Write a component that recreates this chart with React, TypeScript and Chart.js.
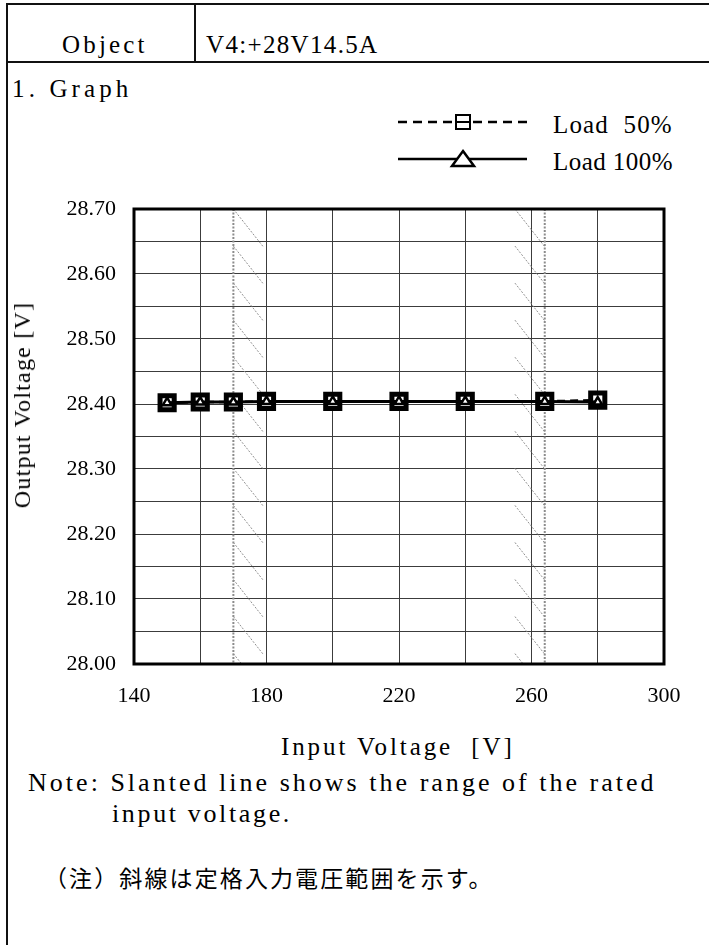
import React, { useEffect, useLayoutEffect, useRef } from 'react';
import { Chart, registerables } from 'chart.js';

Chart.register(...registerables);

// ---- data ----
const INPUT_VOLTAGE = [150, 160, 170, 180, 200, 220, 240, 264, 280];
const LOAD_50 = [28.402, 28.403, 28.403, 28.404, 28.404, 28.404, 28.404, 28.404, 28.406];
const LOAD_100 = [28.402, 28.403, 28.403, 28.404, 28.404, 28.404, 28.404, 28.404, 28.403];
const SERIES_NAMES = ['Load  50%', 'Load 100%'];
const X_TICK_LABELS = [140, 180, 220, 260, 300];
const Y_TICK_LABELS = ['28.00', '28.10', '28.20', '28.30', '28.40', '28.50', '28.60', '28.70'];
const RATED_RANGE = [170, 264];

const SERIF = '"Liberation Serif", "Times New Roman", "DejaVu Serif", serif';
const CJK = '"Noto Sans CJK JP", sans-serif';
const CANVAS_TOP = 95;

type TxtProps = {
  x: number;
  y: number;
  w: number;
  size: number;
  family?: string;
  rotate?: boolean;
  children: string;
};

function Txt({ x, y, w, size, family = SERIF, rotate = false, children }: TxtProps) {
  const ref = useRef<HTMLSpanElement>(null);
  useLayoutEffect(() => {
    const fit = () => {
      const el = ref.current;
      if (!el) return;
      el.style.letterSpacing = '0px';
      const natural = el.offsetWidth;
      const n = Array.from(el.textContent || '').length;
      el.style.letterSpacing = (w - natural) / n + 'px';
    };
    fit();
    const f = (document as any).fonts;
    if (f && f.ready) f.ready.then(fit);
  }, [w, children]);
  const style: React.CSSProperties = rotate
    ? {
        position: 'absolute',
        left: x,
        top: y,
        transform: 'translate(-50%, -50%) rotate(-90deg)',
        fontFamily: family,
        fontSize: size,
        lineHeight: 1,
        whiteSpace: 'pre',
        color: '#000',
      }
    : {
        position: 'absolute',
        left: x,
        top: y - size / 2,
        fontFamily: family,
        fontSize: size,
        lineHeight: 1,
        whiteSpace: 'pre',
        color: '#000',
      };
  return (
    <span ref={ref} style={style}>
      {children}
    </span>
  );
}

function Line({ x, y, w, h }: { x: number; y: number; w: number; h: number }) {
  return <div style={{ position: 'absolute', left: x, top: y, width: w, height: h, background: '#111' }} />;
}

export default function App() {
  const canvasRef = useRef<HTMLCanvasElement>(null);

  useEffect(() => {
    const canvas = canvasRef.current;
    if (!canvas) return;

    const hatchPlugin = {
      id: 'hatch',
      beforeDatasetsDraw(chart: any) {
        const { ctx, chartArea } = chart;
        const xs = chart.scales.x;
        const ys = chart.scales.y;
        ctx.save();
        ctx.beginPath();
        ctx.rect(chartArea.left, chartArea.top, chartArea.right - chartArea.left, chartArea.bottom - chartArea.top);
        ctx.clip();
        ctx.strokeStyle = '#8c8c8c';
        ctx.lineWidth = 2;
        ctx.setLineDash([2, 1.5]);
        for (const v of RATED_RANGE) {
          const px = xs.getPixelForValue(v);
          ctx.beginPath();
          ctx.moveTo(px, chartArea.top);
          ctx.lineTo(px, chartArea.bottom);
          ctx.stroke();
        }
        const width = 9;
        const drop = 0.058;
        const step = 0.057;
        ctx.lineWidth = 1;
        ctx.strokeStyle = '#909090';
        ctx.setLineDash([2, 1.5]);
        for (let v = 28.7; v > 27.9; v -= step) {
          ctx.beginPath();
          ctx.moveTo(xs.getPixelForValue(RATED_RANGE[0]), ys.getPixelForValue(v));
          ctx.lineTo(xs.getPixelForValue(RATED_RANGE[0] + width), ys.getPixelForValue(v - drop));
          ctx.stroke();
          ctx.beginPath();
          ctx.moveTo(xs.getPixelForValue(RATED_RANGE[1] - width), ys.getPixelForValue(v));
          ctx.lineTo(xs.getPixelForValue(RATED_RANGE[1]), ys.getPixelForValue(v - drop));
          ctx.stroke();
        }
        ctx.restore();
      },
    };

    const framePlugin = {
      id: 'frame',
      afterDraw(chart: any) {
        const { ctx, chartArea } = chart;
        ctx.save();
        ctx.strokeStyle = '#000';
        ctx.lineWidth = 3;
        ctx.setLineDash([]);
        ctx.strokeRect(chartArea.left, chartArea.top, chartArea.right - chartArea.left, chartArea.bottom - chartArea.top);
        ctx.restore();
      },
    };

    const legendPlugin = {
      id: 'customLegend',
      afterDraw(chart: any) {
        const { ctx } = chart;
        const x0 = 398;
        const x1 = 527;
        const cx = 463;
        const y1 = 122 - CANVAS_TOP;
        const y2 = 159 - CANVAS_TOP;
        ctx.save();
        ctx.strokeStyle = '#000';
        ctx.lineWidth = 2.5;
        ctx.setLineDash([9, 6]);
        ctx.beginPath();
        ctx.moveTo(x0, y1);
        ctx.lineTo(x1, y1);
        ctx.stroke();
        ctx.setLineDash([]);
        ctx.fillStyle = '#fff';
        ctx.fillRect(cx - 8, y1 - 8, 16, 16);
        ctx.lineWidth = 2;
        ctx.strokeRect(cx - 7, y1 - 7, 14, 14);
        ctx.beginPath();
        ctx.moveTo(cx - 7, y1);
        ctx.lineTo(cx + 7, y1);
        ctx.stroke();
        ctx.lineWidth = 2.5;
        ctx.beginPath();
        ctx.moveTo(x0, y2);
        ctx.lineTo(x1, y2);
        ctx.stroke();
        ctx.beginPath();
        ctx.moveTo(cx, y2 - 8);
        ctx.lineTo(cx + 11, y2 + 7);
        ctx.lineTo(cx - 11, y2 + 7);
        ctx.closePath();
        ctx.fillStyle = '#fff';
        ctx.fill();
        ctx.lineWidth = 2.5;
        ctx.stroke();
        ctx.restore();
      },
    };

    const tickFont = { family: SERIF, size: 22 };

    const chart = new Chart(canvas, {
      type: 'line',
      data: {
        datasets: [
          {
            label: SERIES_NAMES[1],
            data: INPUT_VOLTAGE.map((x, i) => ({ x, y: LOAD_100[i] })),
            borderColor: '#000',
            borderWidth: 3,
            pointStyle: 'triangle',
            pointRadius: 5,
            pointBorderWidth: 2.5,
            pointBackgroundColor: '#fff',
            pointBorderColor: '#000',
            order: 1,
          },
          {
            label: SERIES_NAMES[0],
            data: INPUT_VOLTAGE.map((x, i) => ({ x, y: LOAD_50[i] })),
            borderColor: '#000',
            borderWidth: 2.5,
            borderDash: [8, 5],
            pointStyle: 'rect',
            pointRadius: 10,
            pointBorderWidth: 5,
            pointBackgroundColor: '#fff',
            pointBorderColor: '#000',
            order: 2,
          },
        ],
      },
      options: {
        animation: false,
        responsive: false,
        maintainAspectRatio: false,
        layout: { padding: { top: 209 - CANVAS_TOP, right: 45, left: 0, bottom: 0 } },
        plugins: { legend: { display: false }, tooltip: { enabled: false } },
        scales: {
          x: {
            type: 'linear',
            min: 140,
            max: 300,
            ticks: {
              stepSize: 20,
              autoSkip: false,
              maxRotation: 0,
              padding: 19,
              color: '#000',
              font: tickFont,
              callback: (v: any) => (X_TICK_LABELS.some((t) => Math.abs(t - v) < 1e-6) ? String(v) : ''),
            },
            grid: { color: '#3c3c3c', lineWidth: 1, drawTicks: false },
            border: { display: false },
            afterFit: (s: any) => {
              s.height = 715 - 664;
            },
          },
          y: {
            type: 'linear',
            min: 28,
            max: 28.7,
            ticks: {
              stepSize: 0.05,
              autoSkip: false,
              padding: 18,
              color: '#000',
              font: tickFont,
              callback: (v: any) => {
                const l = Y_TICK_LABELS.find((t) => Math.abs(parseFloat(t) - v) < 1e-6);
                return l ?? '';
              },
            },
            grid: { color: '#3c3c3c', lineWidth: 1, drawTicks: false },
            border: { display: false },
            afterFit: (s: any) => {
              s.width = 134;
            },
          },
        },
      },
      plugins: [hatchPlugin, framePlugin, legendPlugin],
    } as any);

    return () => chart.destroy();
  }, []);

  return (
    <div
      style={{
        position: 'absolute',
        left: 0,
        top: 0,
        width: 709,
        height: 945,
        background: '#fff',
        overflow: 'hidden',
      }}
    >
      <Line x={6} y={3} w={703} h={2} />
      <Line x={6} y={3} w={2} h={942} />
      <Line x={6} y={61} w={703} h={2} />
      <Line x={194} y={3} w={2} h={60} />

      <Txt x={62} y={44} w={86} size={25}>Object</Txt>
      <Txt x={206} y={44} w={172} size={25}>V4:+28V14.5A</Txt>
      <Txt x={12} y={88} w={120} size={25}>1. Graph</Txt>

      <Txt x={553} y={124} w={120} size={25}>{SERIES_NAMES[0]}</Txt>
      <Txt x={553} y={161} w={120} size={25}>{SERIES_NAMES[1]}</Txt>

      <canvas
        ref={canvasRef}
        width={709}
        height={620}
        style={{ position: 'absolute', left: 0, top: CANVAS_TOP, width: 709, height: 620 }}
      />

      <Txt x={22} y={405} w={206} size={24} rotate>Output Voltage [V]</Txt>
      <Txt x={281} y={746} w={234} size={25}>Input Voltage  [V]</Txt>

      <Txt x={28} y={783} w={629} size={26}>Note: Slanted line shows the range of the rated</Txt>
      <Txt x={112} y={814} w={180} size={26}>input voltage.</Txt>
      <Txt x={44} y={877} w={450} size={23} family={CJK}>（注）斜線は定格入力電圧範囲を示す。</Txt>
    </div>
  );
}
